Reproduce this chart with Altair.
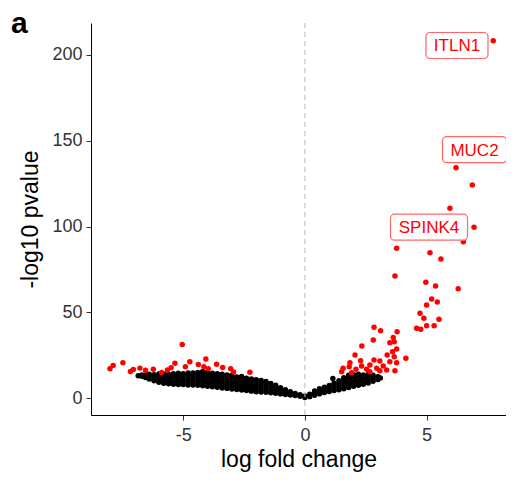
import altair as alt
import pandas as pd

# ---- data ----
# non-significant genes (black), listed column by column
black_cols_x = [-6.85, -6.7, -6.55, -6.4, -6.2, -6.0, -5.8, -5.6, -5.4, -5.2, -5.0, -4.8, -4.6, -4.4,
                -4.2, -4.0, -3.8, -3.6, -3.4, -3.2, -3.0, -2.8, -2.6, -2.4, -2.2, -2.0, -1.8, -1.6,
                -1.4, -1.2, -1.0, -0.8, -0.6, -0.4, -0.2, 0.0, 0.2, 0.4, 0.6, 0.8, 1.0, 1.15, 1.2,
                1.4, 1.6, 1.8, 2.0, 2.2, 2.4, 2.6, 2.8, 3.0, 3.1]
black_cols_y = [
    [13.2], [12.8, 13.6], [12.2, 13.8], [11.2, 13.0, 14.0], [10.2, 12.0, 13.8],
    [9.4, 11.2, 13.0, 14.2], [8.8, 10.6, 12.4, 14.0], [8.5, 10.3, 12.1, 13.9],
    [8.2, 10.0, 11.8, 13.6, 14.4], [8.0, 9.8, 11.6, 13.4, 14.6], [8.0, 9.8, 11.6, 13.4, 14.3],
    [7.8, 9.6, 11.4, 13.2, 14.8], [7.7, 9.5, 11.3, 13.1, 14.7], [7.6, 9.4, 11.2, 13.0, 15.0],
    [7.4, 9.2, 11.0, 12.8, 14.6, 15.6], [7.1, 8.9, 10.7, 12.5, 14.3, 15.2],
    [6.8, 8.6, 10.4, 12.2, 14.0, 14.6], [6.4, 8.2, 10.0, 11.8, 13.6, 14.4],
    [6.0, 7.8, 9.6, 11.4, 13.2, 14.0], [5.8, 7.6, 9.4, 11.2, 13.0, 13.6],
    [5.5, 7.3, 9.1, 10.9, 12.7, 13.4], [5.2, 7.0, 8.8, 10.6, 12.4],
    [4.9, 6.7, 8.5, 10.3, 12.1, 12.8], [4.5, 6.3, 8.1, 9.9, 11.7], [4.2, 6.0, 7.8, 9.6, 11.2],
    [3.9, 5.7, 7.5, 9.3, 10.8], [3.7, 5.5, 7.3, 9.1, 10.4], [3.5, 5.3, 7.1, 8.9, 9.8],
    [3.2, 5.0, 6.8, 8.6], [2.9, 4.7, 6.5, 7.6], [2.6, 4.4, 6.2], [2.3, 4.0, 5.0], [2.0, 3.8],
    [1.6, 2.9], [1.2, 2.1], [0.5, 1.3], [1.0, 2.4], [1.8, 3.6, 4.3], [2.6, 4.4, 5.6],
    [3.4, 5.2, 6.5], [4.0, 5.8, 7.5], [11.5], [4.5, 6.3, 8.1, 8.8], [5.0, 6.8, 8.6, 10.2],
    [5.6, 7.4, 9.2, 11.0, 12.0], [6.3, 8.1, 9.9, 11.7, 13.4], [7.0, 8.8, 10.6, 12.4, 13.8],
    [7.6, 9.4, 11.2, 13.0, 14.0], [8.2, 10.0, 11.8, 13.6], [9.0, 10.8, 12.6, 13.9],
    [10.0, 11.8, 13.4], [11.0, 12.6], [11.8],
]

# significant genes (red)
red_x = [-8.01, -7.88, -7.48, -7.17, -7.05, -6.78, -6.55, -6.23, -5.89, -5.65, -5.5, -5.34,
         -5.04, -4.91, -4.73, -4.38, -4.07, -4.15, -3.97, -3.63, -3.38, -3.05, -2.93, -2.26,
         3.77, 5.14, 5.59, 6.51, 3.70, 4.97, 5.37, 6.30, 5.21, 5.44, 5.00, 4.73, 4.89, 5.51,
         5.00, 5.31, 4.59, 4.76, 2.84, 3.11, 3.79, 3.63, 2.81, 3.67, 2.34, 3.77, 3.60, 2.06,
         3.38, 3.67, 4.15, 2.29, 2.84, 3.08, 1.85, 3.49, 3.77, 1.82, 2.33, 2.67, 3.22, 1.57,
         2.10, 2.54, 2.95, 3.36, 3.70, 1.51, 1.92, 2.67, 3.08, 3.49,
         7.74, 6.21, 6.88, 5.96, 6.95]
red_y = [17.3, 19.2, 20.8, 15.7, 16.8, 17.6, 16.3, 17.0, 15.1, 16.5, 17.8, 20.4,
         31.4, 18.4, 21.3, 19.7, 22.9, 18.4, 17.3, 19.8, 17.9, 17.3, 15.3, 15.2,
         87.4, 84.8, 81.1, 91.2, 71.2, 67.6, 65.4, 63.8, 57.8, 56.1, 54.3, 49.5, 46.6, 46.0,
         42.3, 42.3, 40.8, 40.2, 41.4, 39.4, 38.8, 35.5, 34.0, 33.0, 30.5, 28.7, 27.1, 25.2,
         25.2, 24.2, 23.3, 21.9, 22.3, 21.7, 20.7, 21.3, 20.7, 18.4, 18.8, 19.4, 18.8, 17.5,
         16.9, 16.9, 17.5, 16.5, 16.1, 15.5, 14.9, 15.5, 16.1, 32.4,
         208.3, 134.3, 124.2, 110.7, 99.6]

# gene labels
label_text = ["ITLN1", "MUC2", "SPINK4"]
label_x = [6.25, 6.97, 5.10]
label_y = [205.5, 144.8, 99.7]
label_box_w = [62, 64, 77]

panel_tag = "a"

# ---- build tables ----
bx, by = [], []
for x, ys in zip(black_cols_x, black_cols_y):
    for y in ys:
        bx.append(x)
        by.append(y)
black_df = pd.DataFrame({"lfc": bx, "p": by})
red_df = pd.DataFrame({"lfc": red_x, "p": red_y})

FONT = "Liberation Sans"
xscale = alt.Scale(domain=[-8.79, 8.264], nice=False, zero=False)
yscale = alt.Scale(domain=[-9.7, 218.6], nice=False, zero=False)

xaxis = alt.Axis(title="log fold change", values=[-5, 0, 5], labelExpr="'' + datum.value",
                 grid=False, ticks=True, tickSize=5, tickColor="#333333", labelColor="#333333",
                 labelFontSize=18, labelPadding=6, titleFontSize=23, titleFontWeight="normal",
                 titleColor="#000000", titlePadding=4, domainColor="#000000", domainWidth=1)
yaxis = alt.Axis(title="-log10 pvalue", values=[0, 50, 100, 150, 200], labelExpr="'' + datum.value",
                 grid=False, ticks=True, tickSize=5, tickColor="#333333", labelColor="#333333",
                 labelFontSize=18, labelPadding=4, titleFontSize=23, titleFontWeight="normal",
                 titleColor="#000000", titlePadding=9, domainColor="#000000", domainWidth=1)

black = alt.Chart(black_df).mark_circle(size=30, opacity=1, color="#000000").encode(
    x=alt.X("lfc:Q", scale=xscale, axis=xaxis),
    y=alt.Y("p:Q", scale=yscale, axis=yaxis),
)
red = alt.Chart(red_df).mark_circle(size=30, opacity=1, color="#FF0000").encode(
    x=alt.X("lfc:Q", scale=xscale),
    y=alt.Y("p:Q", scale=yscale),
)
vline = alt.Chart(pd.DataFrame({"v": [0]})).mark_rule(
    color="#BBBBBB", strokeDash=[5, 4], strokeWidth=1
).encode(x=alt.X("v:Q", scale=xscale))

tag = alt.Chart(pd.DataFrame({"t": [panel_tag]})).mark_text(
    font=FONT, fontSize=30, fontWeight="bold", color="#000000", align="left", baseline="alphabetic"
).encode(x=alt.value(-80), y=alt.value(10), text="t:N")

layers = [black, red, vline]
for t, lx, ly, w in zip(label_text, label_x, label_y, label_box_w):
    d = pd.DataFrame({"lfc": [lx], "p": [ly], "gene": [t]})
    box = alt.Chart(d).mark_rect(
        width=w, height=26, cornerRadius=4, fill="#FFFFFF", stroke="#FF6666", strokeWidth=1.2
    ).encode(x=alt.X("lfc:Q", scale=xscale), y=alt.Y("p:Q", scale=yscale))
    txt = alt.Chart(d).mark_text(
        font=FONT, fontSize=17, color="#FF0000", align="center", baseline="middle", dy=1
    ).encode(x=alt.X("lfc:Q", scale=xscale), y=alt.Y("p:Q", scale=yscale), text="gene:N")
    layers += [box, txt]
layers.append(tag)

chart = alt.layer(*layers).properties(
    width=415,
    height=392,
    padding={"left": 83, "top": 15, "right": 0, "bottom": 58},
    autosize=alt.AutoSizeParams(type="none"),
).configure(font=FONT).configure_view(stroke=None)

chart.save("out.html", embed_options={"renderer": "svg", "actions": False})
